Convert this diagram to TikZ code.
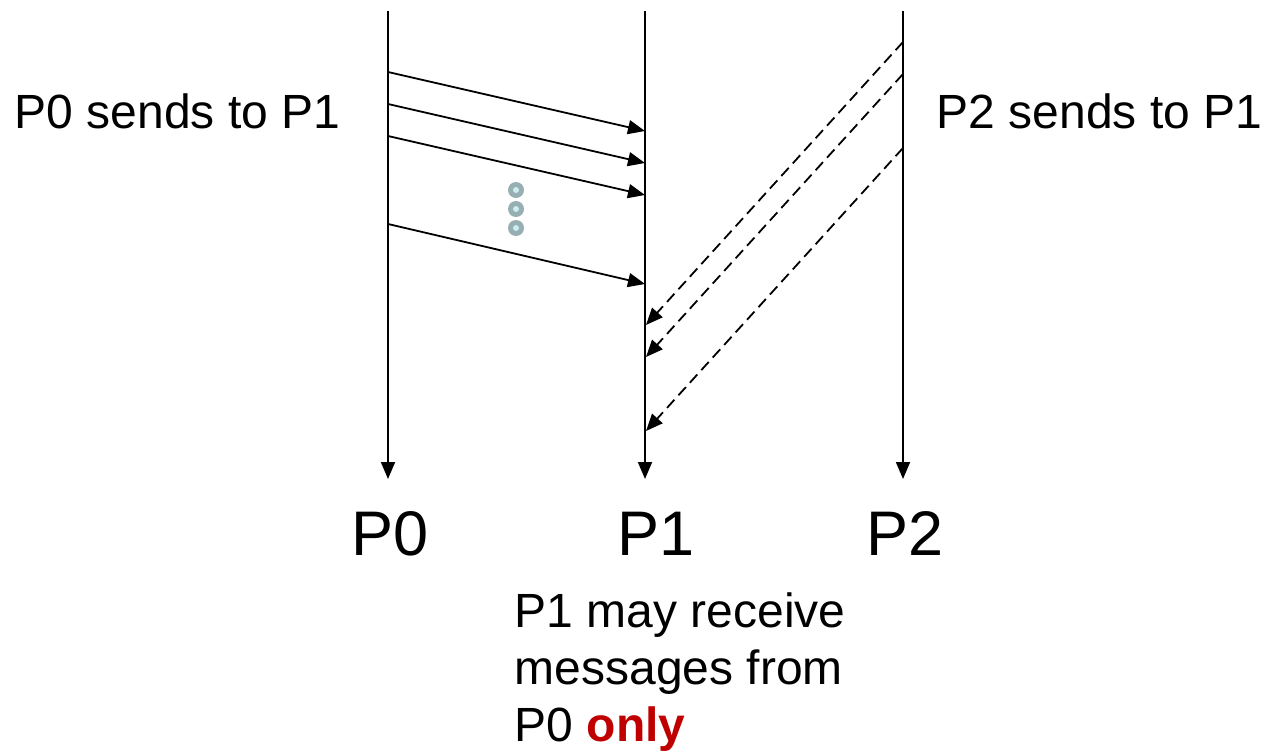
\documentclass[tikz,border=0pt]{standalone}
\usepackage{fontspec}
\setmainfont{Liberation Sans}
\usetikzlibrary{arrows.meta}
\definecolor{onlyred}{HTML}{C00000}
\definecolor{dotgray}{HTML}{97AEB2}
\definecolor{dotcyan}{HTML}{CBEDF1}
\begin{document}
\begin{tikzpicture}[x=1pt,y=-1pt,line width=1.8pt,
  >={Triangle[length=17pt,width=14pt]},
  msg/.style={->},
  late/.style={->,dash pattern=on 11pt off 6pt},
  say/.style={font=\fontsize{48}{58}\selectfont,anchor=base west,inner sep=0pt},
  proc/.style={font=\fontsize{63}{70}\selectfont,anchor=base,inner sep=0pt}]
\useasboundingbox (0,0) rectangle (1263,750);

\coordinate (p0top) at (388,11);
\coordinate (p0bot) at (388,479);
\coordinate (p1top) at (645,11);
\coordinate (p1bot) at (645,479);
\coordinate (p2top) at (903,11);
\coordinate (p2bot) at (903,479);

\draw[msg] (p0top) -- (p0bot);
\draw[msg] (p1top) -- (p1bot);
\draw[msg] (p2top) -- (p2bot);

\coordinate (a1) at (388,72);
\coordinate (a2) at (388,104);
\coordinate (a3) at (388,136);
\coordinate (a4) at (388,224);
\coordinate (b1) at (645,131);
\coordinate (b2) at (645,163);
\coordinate (b3) at (645,195);
\coordinate (b4) at (645,284);

\draw[msg] (a1) -- (b1);
\draw[msg] (a2) -- (b2);
\draw[msg] (a3) -- (b3);
\draw[msg] (a4) -- (b4);

\coordinate (c1) at (903,42);
\coordinate (c2) at (903,74);
\coordinate (c3) at (903,148);
\coordinate (d1) at (646,325);
\coordinate (d2) at (646,357);
\coordinate (d3) at (646,431);

\draw[late] (c1) -- (d1);
\draw[late] (c2) -- (d2);
\draw[late] (c3) -- (d3);

\fill[dotgray] (516,190) circle (8);
\fill[dotgray] (516,209) circle (8);
\fill[dotgray] (516,228) circle (8);
\fill[dotcyan] (516,190) circle (3);
\fill[dotcyan] (516,209) circle (3);
\fill[dotcyan] (516,228) circle (3);

\node[say] (p0say) at (14,128) {P0 sends to P1};
\node[say] (p2say) at (936,128) {P2 sends to P1};

\node[proc] (p0name) at (390,555) {P0};
\node[proc] (p1name) at (656,555) {P1};
\node[proc] (p2name) at (905,555) {P2};

\node[say] (note1) at (514,627) {P1 may receive};
\node[say] (note2) at (514,684) {messages from};
\node[say] (note3) at (514,741) {P0 \textcolor{onlyred}{\bfseries only}};
\end{tikzpicture}
\end{document}
